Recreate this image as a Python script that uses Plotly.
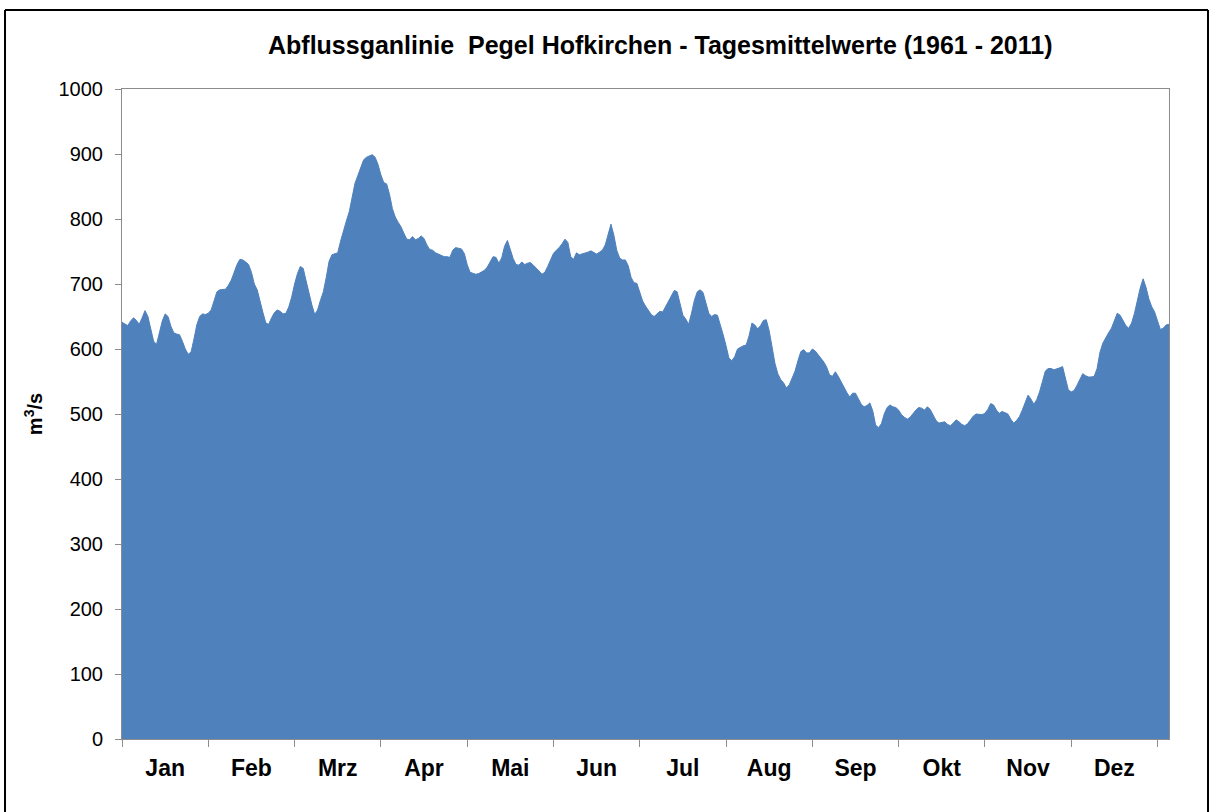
import plotly.graph_objects as go

months = ["Jan", "Feb", "Mrz", "Apr", "Mai", "Jun", "Jul", "Aug", "Sep", "Okt", "Nov", "Dez"]
month_ticks = [0, 30, 60, 90, 120, 150, 180, 210, 240, 270, 300, 330, 360]
month_label_pos = [15, 45, 75, 105, 135, 165, 195, 225, 255, 285, 315, 345]
y_ticks = [0, 100, 200, 300, 400, 500, 600, 700, 800, 900, 1000]

# daily mean discharge (m3/s), day index 0..364
discharge = [
    641, 638, 636, 643, 648, 644, 638, 648, 659, 650,
    630, 612, 607, 625, 643, 654, 650, 635, 625, 623,
    622, 612, 600, 592, 595, 615, 637, 650, 654, 653,
    655, 660, 675, 688, 691, 691, 692, 698, 706, 718,
    730, 738, 737, 734, 730, 718, 700, 691, 672, 656,
    640, 638, 648, 656, 660, 658, 654, 655, 665, 680,
    700, 716, 727, 724, 705, 686, 668, 653, 660, 675,
    688, 710, 735, 745, 746, 748, 766, 783, 797, 811,
    832, 855, 867, 878, 891, 895, 897, 899, 895, 884,
    868, 856, 854, 838, 816, 803, 795, 788, 778, 769,
    768, 773, 768, 770, 774, 770, 760, 753, 752, 748,
    746, 744, 742, 742, 741, 752, 756, 755, 754, 747,
    730, 718, 716, 715, 716, 718, 721, 726, 735, 742,
    741, 732, 740, 758, 767, 752, 739, 730, 729, 734,
    730, 732, 733, 729, 725, 720, 715, 718, 727, 738,
    747, 752, 756, 762, 769, 764, 742, 738, 748, 745,
    746, 747, 749, 751, 748, 746, 749, 752, 760, 778,
    792, 775, 752, 740, 737, 737, 728, 710, 702, 701,
    688, 674, 666, 660, 653, 650, 654, 658, 657, 665,
    673, 682, 690, 688, 668, 652, 646, 638, 655, 675,
    688, 691, 687, 670, 655, 650, 653, 652, 638, 622,
    605, 586, 582, 588, 600, 603, 605, 606, 620, 640,
    637, 631, 636, 644, 645, 628, 600, 578, 562, 553,
    548, 540, 545, 556, 566, 582, 596, 599, 594, 594,
    600, 597, 591, 586, 580, 572, 560, 558, 565, 558,
    549, 541, 533, 526, 532, 532, 523, 515, 511, 513,
    517, 505, 483, 479, 485, 500, 510, 514, 511, 510,
    506, 499, 495, 492, 495, 501, 506, 510, 509, 506,
    511, 507, 499, 490, 486, 487, 488, 484, 482, 486,
    491, 488, 484, 482, 485, 491, 497, 500, 499, 499,
    501, 507, 516, 514, 506, 501, 504, 502, 500, 492,
    486, 490, 496, 506, 518, 529, 523, 515, 522, 534,
    550, 566, 570, 570, 568, 569, 571, 573, 555, 537,
    534, 536, 544, 554, 562, 559, 557, 557, 558, 570,
    595, 609, 618, 625, 632, 645, 655, 652, 644, 636,
    632, 640, 655, 676, 694, 708, 695, 677, 665, 657,
    642, 630, 632, 637, 638,
]
days = list(range(len(discharge)))

title_text = "Abflussganlinie  Pegel Hofkirchen - Tagesmittelwerte (1961 - 2011)"
y_title = "m<sup>3</sup>/s"

W, H = 1211, 812
PL, PT, PW, PH = 122, 89, 1047, 650  # plot area in page pixels

fig = go.Figure()
fig.add_trace(go.Scatter(
    x=days, y=discharge, mode="lines",
    line=dict(color="#4F81BD", width=1),
    fill="tozeroy", fillcolor="#4F81BD",
    hoverinfo="x+y", showlegend=False,
))

font_family = "Liberation Sans, Arial, sans-serif"

def px_x(px):
    return (px - PL) / PW

def px_y(py):
    return (PT + PH - py) / PH

border = dict(color="black", width=2)

fig.update_layout(
    width=W, height=H,
    margin=dict(l=PL, r=W - PL - PW, t=PT, b=H - PT - PH),
    paper_bgcolor="white", plot_bgcolor="white",
    font=dict(family=font_family, color="black"),
    showlegend=False,
    annotations=[dict(
        text="<b>" + title_text + "</b>", xref="paper", yref="paper",
        x=px_x(660.5), y=px_y(45), xanchor="center", yanchor="middle",
        showarrow=False, font=dict(size=25, family=font_family, color="black"),
    )],
    shapes=[
        dict(type="line", xref="paper", yref="paper",
             x0=px_x(5), x1=px_x(1208), y0=px_y(10), y1=px_y(10), line=border),
        dict(type="line", xref="paper", yref="paper",
             x0=px_x(5), x1=px_x(5), y0=px_y(10), y1=px_y(812), line=border),
        dict(type="line", xref="paper", yref="paper",
             x0=px_x(1208), x1=px_x(1208), y0=px_y(10), y1=px_y(812), line=border),
    ],
)

fig.update_xaxes(
    range=[0, 364], tickmode="array", tickvals=month_label_pos, ticktext=months,
    ticks="", tickfont=dict(size=23, family=font_family, color="black", weight="bold"),
    ticklabelstandoff=8,
    showgrid=False, zeroline=False,
    showline=True, linecolor="#8c8c8c", linewidth=1, mirror=True,
    minor=dict(tickmode="array", tickvals=month_ticks, ticks="outside",
               ticklen=7, tickcolor="#8c8c8c", tickwidth=1, showgrid=False),
)
fig.update_yaxes(
    range=[0, 1000], tickmode="array", tickvals=y_ticks,
    ticks="outside", ticklen=6, tickcolor="#8c8c8c", tickwidth=1,
    tickfont=dict(size=20, family=font_family, color="black"),
    ticklabelstandoff=8,
    showgrid=False, zeroline=False,
    showline=True, linecolor="#8c8c8c", linewidth=1, mirror=True,
    title=dict(text="<b>" + y_title + "</b>", font=dict(size=20, family=font_family, color="black"), standoff=10),
)

fig.write_html(
    "out.html",
    config={"displayModeBar": False},
    post_script="document.body.style.margin='0';document.body.style.overflow='hidden';",
)
